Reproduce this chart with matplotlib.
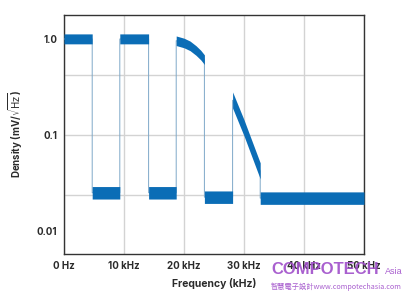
import numpy as np
import matplotlib
matplotlib.use("Agg")
import matplotlib.pyplot as plt
from matplotlib.ticker import FixedLocator, NullFormatter

# ---- data ----
# trace: centre level of the noise density vs frequency (kHz); repeated x = step
freq_khz = [0, 4.7, 4.7, 9.3, 9.3, 14.1, 14.1, 18.7,
            18.7, 20.0, 21.0, 22.0, 22.8, 23.4,
            23.4, 28.1, 28.1, 30.0, 32.7, 32.7, 50.0]
density = [1.0, 1.0, 0.025, 0.025, 1.0, 1.0, 0.025, 0.025,
           0.96, 0.91, 0.85, 0.76, 0.68, 0.61,
           0.0225, 0.0225, 0.23, 0.118, 0.042, 0.022, 0.022]
# spread of the noise band (upper / lower factor) per point
band_hi = [1.13, 1.13, 1.16, 1.16, 1.13, 1.13, 1.16, 1.16,
           1.12, 1.12, 1.12, 1.12, 1.12, 1.12,
           1.16, 1.16, 1.22, 1.22, 1.22, 1.16, 1.16]
band_lo = [0.89, 0.89, 0.86, 0.86, 0.89, 0.89, 0.86, 0.86,
           0.89, 0.89, 0.89, 0.89, 0.89, 0.89,
           0.86, 0.86, 0.83, 0.83, 0.83, 0.86, 0.86]

x_ticks = [0, 10, 20, 30, 40, 50]
x_tick_labels = ["0 Hz", "10 kHz", "20 kHz", "30 kHz", "40 kHz", "50 kHz"]
y_ticks = [0.01, 0.1, 1.0]
y_tick_labels = ["0.01", "0.1", "1.0"]
y_grid = [0.4217, 0.1, 0.0237]

fam = ["Inter", "DejaVu Sans"]
plt.rcParams["font.family"] = fam
plt.rcParams["mathtext.fontset"] = "dejavusans"

fig = plt.figure(figsize=(4.09, 2.95), dpi=100)
ax = fig.add_axes([64 / 409, 41 / 295, 300 / 409, 239 / 295])
ax.set_yscale("log")
ax.set_xlim(0, 50)
ax.set_ylim(0.00575, 1.778)

x = np.array(freq_khz)
y = np.array(density)
blue = "#0b6db6"
ax.plot(x, y, color="#7ea8c8", lw=0.7, zorder=3)
ax.fill_between(x, y * np.array(band_lo), y * np.array(band_hi),
                color=blue, lw=0, zorder=4)

ax.set_xticks(x_ticks)
ax.set_xticklabels(x_tick_labels)
ax.set_yticks(y_ticks)
ax.set_yticklabels(y_tick_labels)
ax.yaxis.set_minor_locator(FixedLocator(y_grid))
ax.yaxis.set_minor_formatter(NullFormatter())
ax.yaxis.remove_overlapping_locs = False
ax.grid(False)
ax.grid(True, axis="x", which="major", color="#d3d3d3", lw=1.0)
ax.grid(True, axis="y", which="minor", color="#d3d3d3", lw=1.0)
ax.set_axisbelow(True)
ax.tick_params(which="minor", length=0)
ax.tick_params(which="major", length=0, pad=5, labelsize=7, labelcolor="#2b2b2b")
for lab in ax.get_xticklabels() + ax.get_yticklabels():
    lab.set_fontweight("bold")
for s in ax.spines.values():
    s.set_color("#333333")
    s.set_linewidth(1.0)

ax.set_xlabel("Frequency (kHz)", fontsize=7.5, fontweight="bold", color="#2b2b2b", labelpad=5)
ax.set_ylabel(r"Density (mV/$\sqrt{\mathrm{Hz}}$)", fontsize=7, fontweight="bold",
              color="#2b2b2b", labelpad=8)

# watermark
purple = "#a04fca"
fig.text(271 / 409, 1 - 274 / 295, "COMPOTECH", color=purple, fontsize=12,
         family=["Liberation Sans Narrow", "Liberation Sans"], fontweight="bold",
         alpha=0.9, zorder=10)
fig.text(385 / 409, 1 - 274 / 295, "Asia", color=purple, fontsize=6.5,
         family=["Liberation Sans Narrow", "Liberation Sans"], alpha=0.9, zorder=10)
fig.text(271 / 409, 1 - 289 / 295, "智慧電子設計www.compotechasia.com", color=purple,
         fontsize=5.2, family=["Noto Sans CJK TC", "DejaVu Sans"], alpha=0.9, zorder=10)

fig.savefig("out.png", dpi=100)
